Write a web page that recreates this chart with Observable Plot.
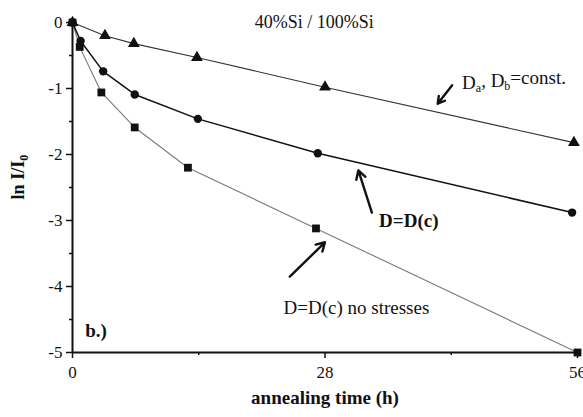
<!DOCTYPE html>
<html>
<head>
<meta charset="utf-8">
<script src="https://cdn.jsdelivr.net/npm/d3@7"></script>
<script src="https://cdn.jsdelivr.net/npm/@observablehq/plot@0.6"></script>
<style>
  html, body { margin: 0; padding: 0; background: #fff; }
  #chart svg { display: block; }
  #chart svg text { font-family: "Liberation Serif", "Times New Roman", serif; }
</style>
</head>
<body>
<div id="chart"></div>
<script>
// Decay of ln I/I0 with annealing time for three diffusion models
const title = "40%Si / 100%Si";
const xLabel = "annealing time (h)";
const yLabel = "ln I/I0";
const panelLabel = "b.)";

const xTicks = [0, 28, 56];
const xMinorTicks = [14, 42];
const yTicks = [0, -1, -2, -3, -4, -5];
const yMinorTicks = [-0.5, -1.5, -2.5, -3.5, -4.5];

// Da, Db = const.
const constTime = [0, 3.6, 6.8, 13.8, 28, 55.6];
const constLnI  = [0, -0.2, -0.32, -0.53, -0.98, -1.82];

// D = D(c)
const dcTime = [0, 0.9, 3.4, 6.9, 13.9, 27.2, 55.4];
const dcLnI  = [0, -0.28, -0.74, -1.09, -1.46, -1.98, -2.88];

// D = D(c), no stresses
const noStressTime = [0, 0.8, 3.2, 6.9, 12.8, 27.0, 56];
const noStressLnI  = [0, -0.37, -1.06, -1.59, -2.2, -3.12, -5.0];

// Curve labels and their pointer arrows
const labelText = ["Da, Db=const.", "D=D(c)", "D=D(c) no stresses"];
const labelX = [43.2, 34.0, 23.4];
const labelY = [-0.91, -3.0, -4.32];
const labelBold = [false, true, false];
const arrowFrom = [[42.1, -0.95], [33.2, -2.88], [24.1, -3.85]];
const arrowTo   = [[40.5, -1.23], [31.7, -2.24], [28.0, -3.33]];

const toRows = (xs, ys) => xs.map((x, i) => ({x, y: ys[i]}));
const constRows = toRows(constTime, constLnI);
const dcRows = toRows(dcTime, dcLnI);
const noStressRows = toRows(noStressTime, noStressLnI);
const labels = labelText.map((text, i) => ({text, x: labelX[i], y: labelY[i], bold: labelBold[i]}));
const arrows = arrowFrom.map((f, i) => ({x1: f[0], y1: f[1], x2: arrowTo[i][0], y2: arrowTo[i][1]}));

const ink = "#111";
const fmt = d => String(d);

const chart = Plot.plot({
  width: 583,
  height: 417,
  marginLeft: 72,
  marginRight: 6,
  marginTop: 22,
  marginBottom: 65,
  style: {fontFamily: "'Liberation Serif', serif", fontSize: "16px", color: ink, background: "#fff"},
  x: {domain: [0, 56]},
  y: {domain: [-5, 0]},
  marks: [
    Plot.axisX({ticks: xTicks, tickSize: 6, tickPadding: 7, tickFormat: fmt, label: null, fontSize: 17, strokeWidth: 1.5}),
    Plot.axisX({ticks: xMinorTicks, tickSize: 3, tickFormat: () => "", label: null, strokeWidth: 1.5}),
    Plot.axisY({ticks: yTicks, tickSize: 6, tickPadding: 4, tickFormat: fmt, label: null, fontSize: 17, strokeWidth: 1.5}),
    Plot.axisY({ticks: yMinorTicks, tickSize: 3, tickFormat: () => "", label: null, strokeWidth: 1.5}),
    Plot.ruleX([0], {stroke: ink, strokeWidth: 2}),
    Plot.ruleY([-5], {stroke: ink, strokeWidth: 2}),

    Plot.line(noStressRows, {x: "x", y: "y", stroke: "#7a7a7a", strokeWidth: 1.1}),
    Plot.line(constRows, {x: "x", y: "y", stroke: "#333", strokeWidth: 1.1}),
    Plot.line(dcRows, {x: "x", y: "y", stroke: "#111", strokeWidth: 1.5}),

    Plot.dot(noStressRows, {x: "x", y: "y", symbol: "square", r: 4.4, fill: ink, stroke: "none"}),
    Plot.dot(dcRows, {x: "x", y: "y", symbol: "circle", r: 4.2, fill: ink, stroke: "none"}),
    Plot.dot(constRows, {x: "x", y: "y", symbol: "triangle", r: 4.4, fill: ink, stroke: "none"}),

    Plot.arrow(arrows, {x1: "x1", y1: "y1", x2: "x2", y2: "y2", stroke: ink, strokeWidth: 2.4, headLength: 6}),
    Plot.text(labels.filter(d => !d.bold), {x: "x", y: "y", text: "text", textAnchor: "start", fontSize: 19, fill: ink}),
    Plot.text(labels.filter(d => d.bold), {x: "x", y: "y", text: "text", textAnchor: "start", fontWeight: "bold", fontSize: 19, fill: ink}),

    Plot.text([panelLabel], {x: 1.4, y: -4.67, textAnchor: "start", fontWeight: "bold", fontSize: 19, fill: ink}),
    Plot.text([title], {x: 26.8, frameAnchor: "top", dy: -7, fontSize: 18, fill: ink}),
    Plot.text([xLabel], {x: 28, frameAnchor: "bottom", dy: 51, fontSize: 19, fontWeight: "bold", fill: ink}),
    Plot.text([yLabel], {y: -2.68, frameAnchor: "left", dx: -54, rotate: -90, fontSize: 18, fontWeight: "bold", fill: ink})
  ]
});

// Subscripts for the texts that need them
const svg = d3.select(chart);
function subscriptify(content, parts) {
  svg.selectAll("text").filter(function() { return this.textContent === content; }).each(function() {
    const t = d3.select(this);
    t.text(null);
    let down = false;
    for (const [s, sub] of parts) {
      const span = t.append("tspan").text(s);
      if (sub && !down) { span.attr("dy", "0.3em").attr("font-size", "12px"); down = true; }
      else if (sub) { span.attr("font-size", "12px"); }
      else if (down) { span.attr("dy", "-0.3em"); down = false; }
    }
  });
}
subscriptify("Da, Db=const.", [["D"], ["a", true], [", D"], ["b", true], ["=const."]]);
subscriptify("ln I/I0", [["ln I/I"], ["0", true]]);

document.getElementById("chart").appendChild(chart);
</script>
</body>
</html>
